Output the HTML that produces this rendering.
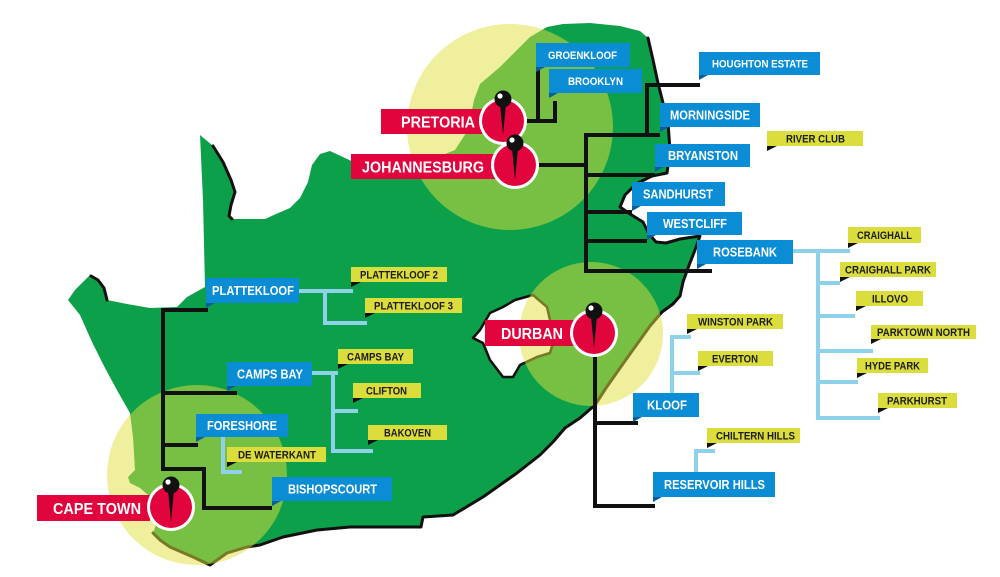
<!DOCTYPE html>
<html>
<head>
<meta charset="utf-8">
<style>
  html,body{margin:0;padding:0;background:#fff;}
  svg{display:block;}
  text{font-family:"Liberation Sans",Arial,sans-serif;font-weight:bold;}
  .w{fill:#fff;}
  .k{fill:#1c1c1c;}
</style>
</head>
<body>
<svg xmlns="http://www.w3.org/2000/svg" width="1000" height="577" viewBox="0 0 1000 577">
  <rect width="1000" height="577" fill="#fff"/>

  <!-- country -->
  <path fill="#0da04b" fill-rule="evenodd" d="M200,135 L212,145 L222,162 L230,180 L234,192 L230,205 L228,216 L232,219 L265,219 L276,214 L290,208 L300,198 L308,182 L312,165 L320,154 L330,151 L345,158 L362,166 L395,166 L425,162 L455,150 L468,130 L472,110 L474,100 L480,84 L500,67 L517,50 L530,37 L547,27 L563,24 L590,23 L620,26 L640,31 L648,38 L653,60 L658,83 L668,123 L670,150 L667,173 L652,176 L636,184 L625,195 L620,207 L630,214 L643,222 L649,234 L656,242 L666,243 L680,239 L700,236 L695,250 L688,268 L683,282 L680,296 L673,304 L662,312 L650,326 L635,347 L620,368 L606,388 L595,405 L580,418 L565,428 L553,442 L540,455 L517,473 L483,497 L453,515 L423,517 L421,527 L383,527 L350,527 L317,530 L283,537 L260,545 L247,547 L227,553 L210,565 L193,557 L170,547 L160,540 L153,533 L156,525 L150,515 L148,495 L140,488 L130,483 L128,477 L135,470 L133,437 L130,413 L118,392 L105,368 L92,342 L80,315 L68,300 L75,290 L85,280 L90,275 L97,279 L103,287 L107,300 L127,304 L150,308 L177,307 L187,297 L205,287 L203,200 Z
  M533,295 L515,300 L503,307 L490,313 L480,330 L473,338 L483,343 L490,360 L503,377 L513,377 L520,365 L537,357 L550,353 L553,343 L553,333 L547,307 Z"/>

  <!-- outlines -->
  <g fill="none" stroke="#111" stroke-width="3" stroke-linejoin="round" stroke-linecap="round">
    <path d="M213,146 L223,162 L231,180 L235,192 L231,205 L229,216 L232,219"/>
    <path d="M91,276 L98,280 L104,288 L107,300"/>
    <path d="M648,38 L653,60 L658,83 L668,123 L670,150 L667,173 L652,176 L636,184 L625,195 L620,207 L630,214 L643,222 L649,234 L656,242 L666,243 L680,239 L700,236 L695,250 L688,268 L683,282 L680,296 L673,304 L662,312 L650,326 L635,347 L620,368 L606,388 L595,405 L580,418 L565,428 L553,442 L540,455 L517,473 L483,497 L453,515 L423,517 L421,527 L383,527 L350,527 L317,530 L283,537 L260,545 L247,547 L227,553 L210,565 L193,557 L170,547 L160,540 L153,533"/>
    <path stroke-width="2.5" d="M533,295 L515,300 L503,307 L490,313 L480,330 L473,338 L483,343 L490,360 L503,377 L513,377 L520,365 L537,357 L550,353 L553,343 L553,333 L547,307 Z"/>
  </g>

  <!-- circles overlay -->
  <g fill="rgb(226,224,60)" fill-opacity="0.5">
    <circle cx="510" cy="127" r="103"/>
    <circle cx="591" cy="334" r="72"/>
    <circle cx="197" cy="475" r="90"/>
  </g>

  <!-- black connectors -->
  <g fill="none" stroke="#111" stroke-width="4" stroke-linejoin="miter">
    <path d="M525,121 H557 M538,123 V70 M555,123 V101"/>
    <path d="M537,165 H588 M586,133 V273 M584,135 H660 M647,137 V85 H700 M584,175 H655 M584,212 H632 M584,241 H647 M584,271 H712"/>
    <path d="M595,355 V508 M593,423 H638 M593,506 H655"/>
    <path d="M161,310 H208 M163,308 V471 M161,393 H237 M161,445 H198 M161,469 H204 V508 H272"/>
  </g>

  <!-- light blue connectors -->
  <g fill="none" stroke="#8dd2ea" stroke-width="4" stroke-linejoin="miter">
    <path d="M299,291 H353 M325,289 V323 H367"/>
    <path d="M312,373 H338 M333,371 V451 H373 M331,411 H358"/>
    <path d="M223,437 V472 H242"/>
    <path d="M793,251 H850 M818,249 V418 H880 M816,283 H840 M816,316 H855 M816,351 H873 M816,382 H858"/>
    <path d="M672,335 V393 M670,337 H691 M670,373 H700"/>
    <path d="M696,449 V472 M694,451 H715"/>
  </g>

  <!-- red labels -->
  <g fill="#e2053d">
    <rect x="381" y="109" width="102" height="25"/>
    <rect x="351" y="154" width="144" height="25"/>
    <rect x="485" y="320" width="90" height="26"/>
    <rect x="37" y="495" width="113" height="26"/>
  </g>
  <g class="w" font-size="16">
    <text x="401" y="127.5" textLength="74" lengthAdjust="spacingAndGlyphs">PRETORIA</text>
    <text x="362" y="172.5" textLength="122" lengthAdjust="spacingAndGlyphs">JOHANNESBURG</text>
    <text x="501" y="339" textLength="62" lengthAdjust="spacingAndGlyphs">DURBAN</text>
    <text x="53" y="514" textLength="88" lengthAdjust="spacingAndGlyphs">CAPE TOWN</text>
  </g>

  <!-- blue labels -->
  <g fill="#0b8dd6">
    <rect x="536" y="43" width="94" height="24"/>
    <rect x="549" y="69" width="93" height="24"/>
    <rect x="699" y="52" width="121" height="23"/>
    <rect x="660" y="103" width="100" height="24"/>
    <rect x="655" y="144" width="95" height="23"/>
    <rect x="632" y="182" width="93" height="24"/>
    <rect x="647" y="212" width="95" height="23"/>
    <rect x="697" y="240" width="96" height="24"/>
    <rect x="206" y="278" width="93" height="25"/>
    <rect x="227" y="362" width="85" height="24"/>
    <rect x="196" y="414" width="92" height="23"/>
    <rect x="272" y="477" width="120" height="24"/>
    <rect x="633" y="393" width="66" height="24"/>
    <rect x="653" y="472" width="122" height="25"/>
  </g>
  <g fill="#0a5f9a">
    <polygon points="536,67 545,67 536,72"/>
    <polygon points="549,93 558,93 549,98"/>
    <polygon points="699,75 708,75 699,80"/>
    <polygon points="660,127 669,127 660,132"/>
    <polygon points="655,167 664,167 655,172"/>
    <polygon points="632,206 641,206 632,211"/>
    <polygon points="647,235 656,235 647,240"/>
    <polygon points="697,264 706,264 697,269"/>
    <polygon points="206,303 215,303 206,308"/>
    <polygon points="227,386 236,386 227,391"/>
    <polygon points="196,437 205,437 196,442"/>
    <polygon points="272,501 281,501 272,506"/>
    <polygon points="633,417 642,417 633,422"/>
    <polygon points="653,497 662,497 653,502"/>
  </g>
  <g class="w">
    <text x="548" y="59" font-size="11" textLength="69" lengthAdjust="spacingAndGlyphs">GROENKLOOF</text>
    <text x="568" y="85" font-size="11" textLength="55" lengthAdjust="spacingAndGlyphs">BROOKLYN</text>
    <text x="712" y="67.5" font-size="11" textLength="96" lengthAdjust="spacingAndGlyphs">HOUGHTON ESTATE</text>
    <text x="670" y="119.5" font-size="12.5" textLength="80" lengthAdjust="spacingAndGlyphs">MORNINGSIDE</text>
    <text x="668" y="160" font-size="12.5" textLength="70" lengthAdjust="spacingAndGlyphs">BRYANSTON</text>
    <text x="643" y="198.5" font-size="12.5" textLength="70" lengthAdjust="spacingAndGlyphs">SANDHURST</text>
    <text x="663" y="228" font-size="12.5" textLength="64" lengthAdjust="spacingAndGlyphs">WESTCLIFF</text>
    <text x="713" y="256.5" font-size="12.5" textLength="64" lengthAdjust="spacingAndGlyphs">ROSEBANK</text>
    <text x="212" y="295" font-size="12.5" textLength="82" lengthAdjust="spacingAndGlyphs">PLATTEKLOOF</text>
    <text x="237" y="378.5" font-size="12.5" textLength="66" lengthAdjust="spacingAndGlyphs">CAMPS BAY</text>
    <text x="207" y="430" font-size="12.5" textLength="70" lengthAdjust="spacingAndGlyphs">FORESHORE</text>
    <text x="288" y="493.5" font-size="12.5" textLength="89" lengthAdjust="spacingAndGlyphs">BISHOPSCOURT</text>
    <text x="647" y="409.5" font-size="12.5" textLength="40" lengthAdjust="spacingAndGlyphs">KLOOF</text>
    <text x="664" y="489" font-size="12.5" textLength="101" lengthAdjust="spacingAndGlyphs">RESERVOIR HILLS</text>
  </g>

  <!-- yellow labels -->
  <g fill="#dadd3b">
    <rect x="767" y="131" width="96" height="15"/>
    <rect x="848" y="227" width="73" height="16"/>
    <rect x="840" y="262" width="96" height="15"/>
    <rect x="856" y="291" width="67" height="15"/>
    <rect x="871" y="325" width="105" height="14"/>
    <rect x="857" y="358" width="71" height="15"/>
    <rect x="878" y="393" width="79" height="15"/>
    <rect x="687" y="314" width="96" height="15"/>
    <rect x="698" y="351" width="75" height="15"/>
    <rect x="707" y="428" width="93" height="15"/>
    <rect x="351" y="267" width="96" height="15"/>
    <rect x="365" y="298" width="97" height="15"/>
    <rect x="338" y="349" width="75" height="15"/>
    <rect x="353" y="383" width="68" height="15"/>
    <rect x="368" y="425" width="79" height="15"/>
    <rect x="227" y="447" width="99" height="15"/>
  </g>
  <g fill="#111">
    <polygon points="767,146 777,146 767,151"/>
    <polygon points="848,243 858,243 848,248"/>
    <polygon points="840,277 850,277 840,282"/>
    <polygon points="856,306 866,306 856,311"/>
    <polygon points="871,339 881,339 871,344"/>
    <polygon points="857,373 867,373 857,378"/>
    <polygon points="878,408 888,408 878,413"/>
    <polygon points="687,329 697,329 687,334"/>
    <polygon points="698,366 708,366 698,371"/>
    <polygon points="707,443 717,443 707,448"/>
    <polygon points="351,282 361,282 351,287"/>
    <polygon points="365,313 375,313 365,318"/>
    <polygon points="338,364 348,364 338,369"/>
    <polygon points="353,398 363,398 353,403"/>
    <polygon points="368,440 378,440 368,445"/>
    <polygon points="227,462 237,462 227,467"/>
  </g>
  <g class="k" font-size="11">
    <text x="786" y="142.5" textLength="59" lengthAdjust="spacingAndGlyphs">RIVER CLUB</text>
    <text x="857" y="239" textLength="55" lengthAdjust="spacingAndGlyphs">CRAIGHALL</text>
    <text x="845" y="273.5" textLength="86" lengthAdjust="spacingAndGlyphs">CRAIGHALL PARK</text>
    <text x="872" y="302.5" textLength="36" lengthAdjust="spacingAndGlyphs">ILLOVO</text>
    <text x="877" y="336" textLength="93" lengthAdjust="spacingAndGlyphs">PARKTOWN NORTH</text>
    <text x="865" y="369.5" textLength="55" lengthAdjust="spacingAndGlyphs">HYDE PARK</text>
    <text x="887" y="404.5" textLength="60" lengthAdjust="spacingAndGlyphs">PARKHURST</text>
    <text x="698" y="325.5" textLength="75" lengthAdjust="spacingAndGlyphs">WINSTON PARK</text>
    <text x="712" y="362.5" textLength="46" lengthAdjust="spacingAndGlyphs">EVERTON</text>
    <text x="716" y="439.5" textLength="79" lengthAdjust="spacingAndGlyphs">CHILTERN HILLS</text>
    <text x="360" y="278.5" textLength="78" lengthAdjust="spacingAndGlyphs">PLATTEKLOOF 2</text>
    <text x="374" y="309.5" textLength="79" lengthAdjust="spacingAndGlyphs">PLATTEKLOOF 3</text>
    <text x="347" y="360.5" textLength="57" lengthAdjust="spacingAndGlyphs">CAMPS BAY</text>
    <text x="366" y="394.5" textLength="41" lengthAdjust="spacingAndGlyphs">CLIFTON</text>
    <text x="384" y="436.5" textLength="47" lengthAdjust="spacingAndGlyphs">BAKOVEN</text>
    <text x="238" y="458.5" textLength="78" lengthAdjust="spacingAndGlyphs">DE WATERKANT</text>
  </g>

  <!-- pins -->
  <g>
    <circle cx="503" cy="121" r="24" fill="#fff"/>
    <circle cx="503" cy="121" r="21" fill="#e2053d"/>
    <path d="M499.5,99 L506.5,99 L503,135 Z" fill="#111"/>
    <circle cx="503" cy="99" r="8.5" fill="#111"/>
    <circle cx="500" cy="96" r="2.6" fill="#fff"/>
  </g>
  <g>
    <circle cx="515" cy="165" r="24" fill="#fff"/>
    <circle cx="515" cy="165" r="21" fill="#e2053d"/>
    <path d="M511.5,143 L518.5,143 L515,180 Z" fill="#111"/>
    <circle cx="515" cy="143" r="8.5" fill="#111"/>
    <circle cx="512" cy="140" r="2.6" fill="#fff"/>
  </g>
  <g>
    <circle cx="594" cy="333" r="24" fill="#fff"/>
    <circle cx="594" cy="333" r="21" fill="#e2053d"/>
    <path d="M590.5,311 L597.5,311 L594,348 Z" fill="#111"/>
    <circle cx="594" cy="311" r="8.5" fill="#111"/>
    <circle cx="591" cy="308" r="2.6" fill="#fff"/>
  </g>
  <g>
    <circle cx="171" cy="507" r="24" fill="#fff"/>
    <circle cx="171" cy="507" r="21" fill="#e2053d"/>
    <path d="M167.5,485 L174.5,485 L171,522 Z" fill="#111"/>
    <circle cx="171" cy="485" r="8.5" fill="#111"/>
    <circle cx="168" cy="482" r="2.6" fill="#fff"/>
  </g>
</svg>
</body>
</html>
